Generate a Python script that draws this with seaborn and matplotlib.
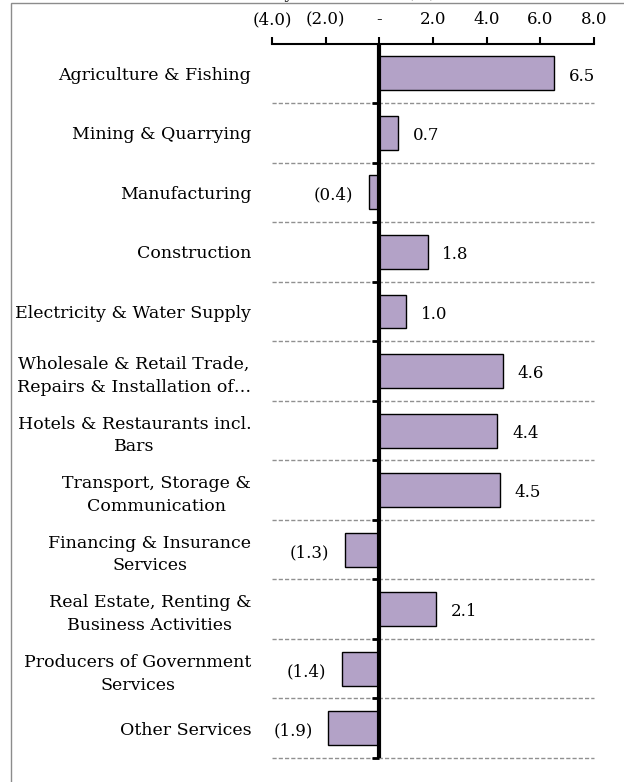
import matplotlib
matplotlib.use('Agg')
import matplotlib.pyplot as plt
import pandas as pd
import seaborn as sns

# sector growth (%)
sectors = [
    'Agriculture & Fishing',
    'Mining & Quarrying',
    'Manufacturing',
    'Construction',
    'Electricity & Water Supply',
    'Wholesale & Retail Trade,\nRepairs & Installation of…',
    'Hotels & Restaurants incl.\nBars',
    'Transport, Storage &\nCommunication',
    'Financing & Insurance\nServices',
    'Real Estate, Renting &\nBusiness Activities',
    'Producers of Government\nServices',
    'Other Services',
]
growth = [6.5, 0.7, -0.4, 1.8, 1.0, 4.6, 4.4, 4.5, -1.3, 2.1, -1.4, -1.9]
xticks = [-4, -2, 0, 2, 4, 6, 8]
xtick_labels = ['(4.0)', '(2.0)', '-', '2.0', '4.0', '6.0', '8.0']

def fmt(v):
    return f'({abs(v):.1f})' if v < 0 else f'{v:.1f}'

df = pd.DataFrame({'sector': sectors, 'growth': growth})

sns.set_style('white')
plt.rcParams['font.family'] = ['DejaVu Serif']
fs = 12
fs_cat = 12.5

fig = plt.figure(figsize=(6.24, 7.82), dpi=100)
ax = fig.add_axes([0.436, 0.0307, 0.516, 0.9136])

sns.barplot(data=df, x='growth', y='sector', order=sectors, color='#B3A2C7',
            edgecolor='black', linewidth=1, width=0.57, saturation=1, ax=ax)

ax.set_xlim(-4, 8)
ax.set_ylim(len(sectors) - 0.5, -0.5)
ax.set_xlabel('')
ax.set_ylabel('')

# top axis
ax.xaxis.tick_top()
ax.set_xticks(xticks)
ax.set_xticklabels(xtick_labels, fontsize=fs, color='black')
ax.tick_params(axis='x', direction='out', length=5, width=1.5, color='black', pad=6)
for s in ['bottom', 'right', 'left']:
    ax.spines[s].set_visible(False)
ax.spines['top'].set_linewidth(1.5)
ax.spines['top'].set_color('black')

# category labels
ax.tick_params(axis='y', length=0, pad=15)
ax.set_yticks(range(len(sectors)))
ax.set_yticklabels(sectors, fontsize=fs_cat, multialignment='center', color='black',
                   linespacing=1.45)

# dashed separators
bounds = [i + 0.5 for i in range(len(sectors))]
ax.hlines(bounds, -4, 8, colors='#909090', linestyles=(0, (3, 1.5)), linewidth=1,
          clip_on=False)

# zero line with little ticks
ax.axvline(0, color='black', linewidth=3, zorder=5)
ax.plot([0] * len(bounds), bounds, linestyle='none', marker=0, markersize=5,
        markeredgewidth=2, color='black', zorder=5, clip_on=False)

# value labels
for i, v in enumerate(growth):
    if v >= 0:
        ax.annotate(fmt(v), (v, i), xytext=(10.5, -2), textcoords='offset points',
                    ha='left', va='center', fontsize=fs, color='black')
    else:
        ax.annotate(fmt(v), (v, i), xytext=(-11, -2), textcoords='offset points',
                    ha='right', va='center', fontsize=fs, color='black')

# frame of the original chart area (cut off)
fig.patches.append(plt.Rectangle((11 / 624, -0.1), 1.2, 1.1 - 3 / 782,
                                 transform=fig.transFigure, fill=False,
                                 edgecolor='#8c8c8c', linewidth=1))
# title mostly off the top edge
fig.text(436 / 624, 1 + 2 / 782, 'Real Growth Rates by Sector 2016 (%)',
         ha='right', va='baseline', fontsize=fs)

fig.savefig('out.png', dpi=100)
